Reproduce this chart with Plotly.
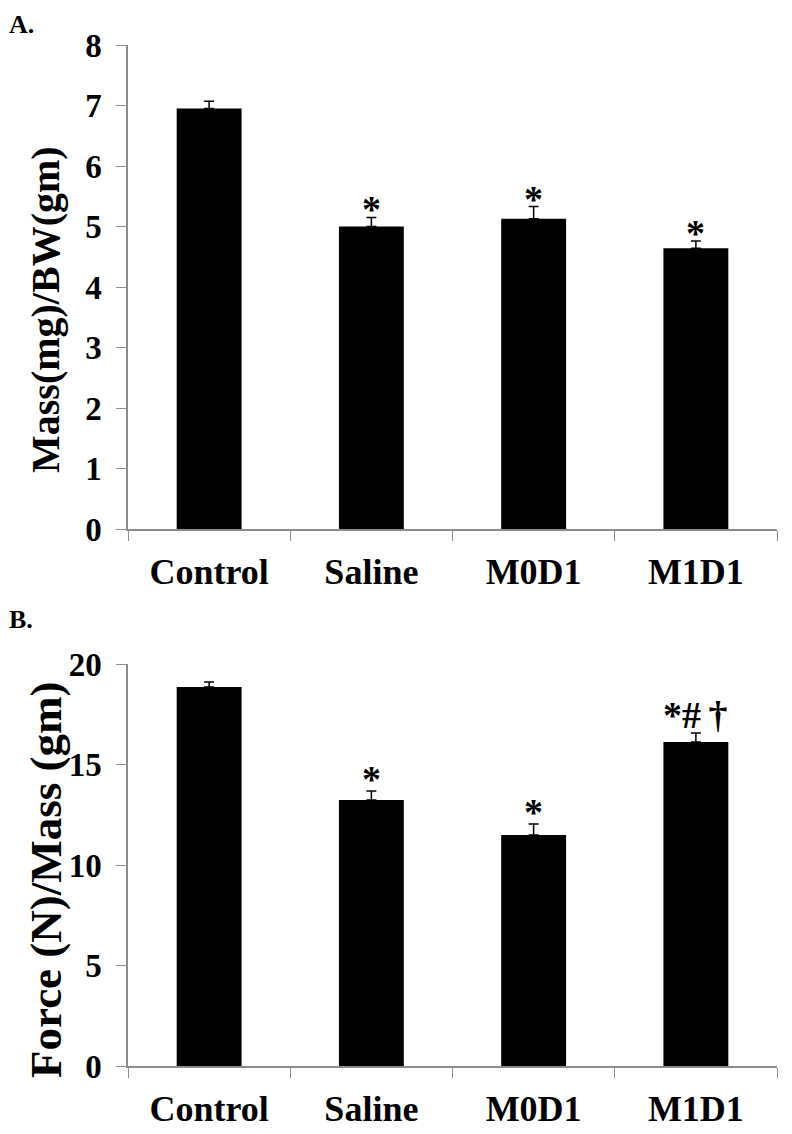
import plotly.graph_objects as go
from plotly.subplots import make_subplots

categories = ["Control", "Saline", "M0D1", "M1D1"]

mass_mean = [6.95, 5.00, 5.13, 4.64]
mass_err = [0.12, 0.15, 0.20, 0.12]
mass_sig = ["", "*", "*", "*"]

force_mean = [18.86, 13.23, 11.49, 16.12]
force_err = [0.24, 0.45, 0.55, 0.45]
force_sig = ["", "*", "*", "*#\u2009\u2020"]

# the page puts the figure 8px in from the top-left corner
OFF = 8
W, H = 792 - OFF, 1134 - OFF
FONT = "Liberation Serif"


def px_x(px):
    return (px - OFF) / W


def px_y(px):
    return 1 - (px - OFF) / H


fig = make_subplots(rows=2, cols=1)

for row, means, errs in [(1, mass_mean, mass_err), (2, force_mean, force_err)]:
    fig.add_trace(
        go.Bar(
            x=categories, y=means,
            marker=dict(color="black", line=dict(width=0)),
            error_y=dict(type="data", array=errs, symmetric=False, arrayminus=[0] * 4,
                         color="black", thickness=1.5, width=5),
            width=0.4,
            showlegend=False,
        ),
        row=row, col=1,
    )

# significance markers above the error bars
for row, means, errs, sig in [(1, mass_mean, mass_err, mass_sig),
                              (2, force_mean, force_err, force_sig)]:
    xref = "x" if row == 1 else "x2"
    yref = "y" if row == 1 else "y2"
    for c, m, e, s in zip(categories, means, errs, sig):
        if not s:
            continue
        if len(s) > 1:
            shift = -5
        else:
            shift = -15 if row == 1 else -11
        fig.add_annotation(
            x=c, y=m + e, xref=xref, yref=yref, text=s, showarrow=False,
            yanchor="bottom", yshift=shift,
            font=dict(family=FONT, size=38, color="black", weight="bold"),
        )

axis_font = dict(family=FONT, size=33, color="black", weight="bold")
cat_font = dict(family=FONT, size=36, color="black", weight="bold")

fig.update_xaxes(
    domain=[px_x(128), px_x(777)], range=[-0.5, 3.5], showline=True,
    linecolor="#8c8c8c", linewidth=1.5,
    ticks="outside", tickson="boundaries", ticklen=10, tickcolor="#8c8c8c",
    tickfont=cat_font, showgrid=False, zeroline=False, automargin=False,
    ticklabelstandoff=10,
)
fig.update_yaxes(
    showline=True, linecolor="#8c8c8c", linewidth=1.5, ticks="outside", ticklen=10,
    tickcolor="#8c8c8c", tickfont=axis_font, showgrid=False, zeroline=False,
    ticklabelstandoff=8, automargin=False,
)
fig.update_layout(
    yaxis=dict(domain=[px_y(529), px_y(45)], range=[0, 8], dtick=1),
    yaxis2=dict(domain=[px_y(1066), px_y(664)], range=[0, 20], dtick=5),
)

# panel letters
fig.add_annotation(text="A.", xref="paper", yref="paper", x=px_x(7), y=1,
                   xanchor="left", yanchor="top", showarrow=False,
                   font=dict(family=FONT, size=26, color="black", weight="bold"))
fig.add_annotation(text="B.", xref="paper", yref="paper", x=px_x(7), y=px_y(619),
                   xanchor="left", yanchor="middle", showarrow=False,
                   font=dict(family=FONT, size=26, color="black", weight="bold"))

# y axis titles
fig.add_annotation(text="Mass(mg)/BW(gm)", xref="paper", yref="paper", x=px_x(46), y=px_y(310),
                   textangle=-90, showarrow=False, xanchor="center", yanchor="middle",
                   font=dict(family=FONT, size=40, color="black", weight="bold"))
fig.add_annotation(text="Force (N)/Mass (gm)", xref="paper", yref="paper", x=px_x(46), y=px_y(880),
                   textangle=-90, showarrow=False, xanchor="center", yanchor="middle",
                   font=dict(family=FONT, size=45, color="black", weight="bold"))

fig.update_layout(
    width=W, height=H,
    margin=dict(l=0, r=0, t=0, b=0),
    plot_bgcolor="white", paper_bgcolor="white",
    bargap=0.6,
)

fig.write_html("out.html")
